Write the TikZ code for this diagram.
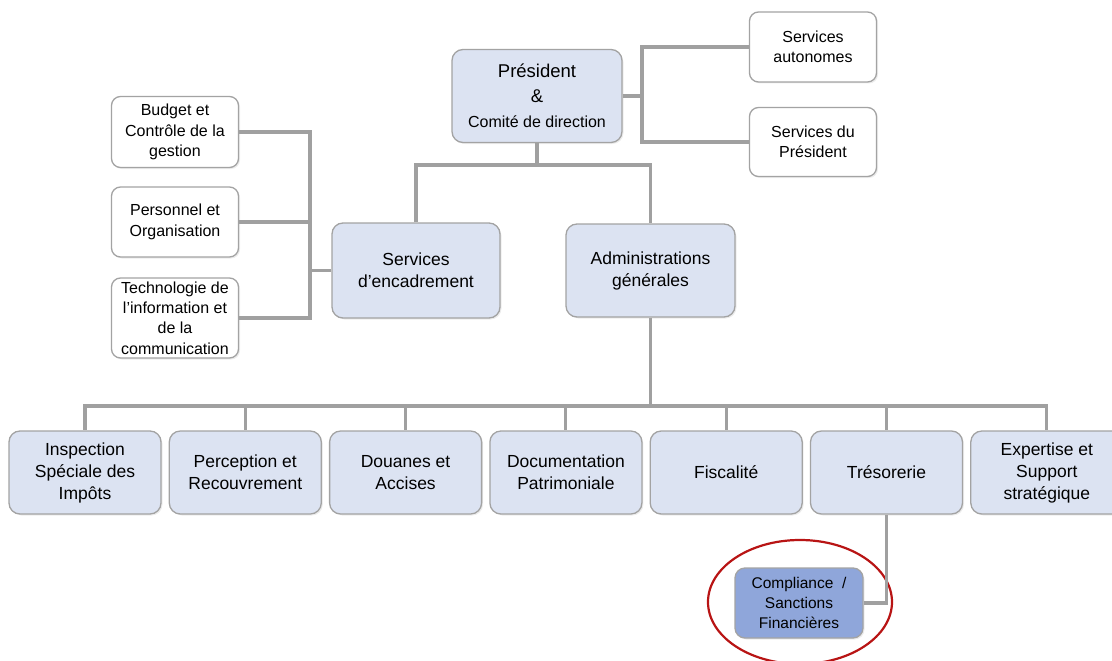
\documentclass[tikz,border=0pt]{standalone}
\usepackage{fontspec}
\setmainfont{Liberation Sans}
\usetikzlibrary{positioning}
\usetikzlibrary{shapes.geometric,shadows}
\definecolor{bleuclair}{HTML}{DCE3F2}
\definecolor{bleufonce}{HTML}{8FA6DA}
\definecolor{gris}{HTML}{A3A3A3}
\definecolor{trait}{HTML}{A0A0A0}
\definecolor{rouge}{HTML}{B81414}
\tikzset{
  boite/.style={draw=gris, line width=1.3pt, align=center, inner sep=1pt,
    drop shadow={shadow xshift=1.5pt, shadow yshift=-1.5pt, opacity=0.15}},
  bleu/.style={boite, fill=bleuclair, rounded corners=11pt, font=\fontsize{17.5}{22}\selectfont},
  blanc/.style={boite, fill=white, rounded corners=9pt, font=\fontsize{16}{20.3}\selectfont,
    minimum width=127pt},
  bas/.style={bleu, minimum width=152pt, minimum height=83pt},
  lien/.style={draw=trait, line width=3.1pt},
}
\begin{document}
\begin{tikzpicture}[x=1pt,y=-1pt]
				\useasboundingbox (0,0) rectangle (1112,661);
				\node[bleu, minimum width=170pt, minimum height=93pt, font=\fontsize{18.5}{25}\selectfont](pres) at (537,96) {Président\\\&\\{\fontsize{16}{25}\selectfont Comité de direction}};
				\node[blanc, minimum height=70pt](auto) at (813,47) {Services\\autonomes};
				\node[blanc, minimum height=69pt](spres) at (813,142) {Services du\\Président};
				\node[blanc, minimum height=71pt](budget) at (175,132) {Budget et\\Contrôle de la\\gestion};
				\node[blanc, minimum height=70pt](perso) at (175,222) {Personnel et\\Organisation};
				\node[blanc, minimum height=80pt](tic) at (175,318) {Technologie de\\l’information et\\de la\\communication};
				\node[bleu, minimum width=168pt, minimum height=95pt](encad) at (416,270.5) {Services\\d’encadrement};
				\node[bleu, minimum width=169pt, minimum height=93pt](admin) at (650.5,270.5) {Administrations\\générales};
				\node[bas](isi) at (85,472.5) {Inspection\\Spéciale des\\Impôts};
				\node[bas, right=7pt of isi](percep) {Perception et\\Recouvrement};
				\node[bas, right=7pt of percep](douanes) {Douanes et\\Accises};
				\node[bas, right=7pt of douanes](docpat) {Documentation\\Patrimoniale};
				\node[bas, right=7pt of docpat](fisc) {Fiscalité};
				\node[bas, right=7pt of fisc](treso) {Trésorerie};
				\node[bas, right=7pt of treso](expert) {Expertise et\\Support\\stratégique};
				\node[bleu, fill=bleufonce, minimum width=128pt, minimum height=70pt, rounded corners=10pt, font=\fontsize{15.5}{20.3}\selectfont](compl) at (799,603) {Compliance~~/\\Sanctions\\Financières};
				\node[draw=rouge, line width=2.2pt, ellipse, minimum width=184pt, minimum height=124pt](cercle) at (800,602) {};

				\coordinate (j1) at (537,165);
				\coordinate (j2) at (642,96);
				\coordinate (j3) at (310,270.5);
				\coordinate (j4) at (650.5,406);

				\draw[lien] (pres) -- (j1);
				\draw[lien] (encad.north) |- (j1) -| (admin.north);
				\draw[lien] (pres.east) -- (j2);
				\draw[lien] (auto.west) -| (j2);
				\draw[lien] (spres.west) -| (j2);
				\draw[lien] (encad.west) -- (j3);
				\draw[lien] (budget.east) -| (j3);
				\draw[lien] (perso.east) -| (j3);
				\draw[lien] (tic.east) -| (j3);
				\draw[lien] (admin) -- (j4);
				\draw[lien] (j4) -| (isi.north);
				\draw[lien] (j4) -| (percep.north);
				\draw[lien] (j4) -| (douanes.north);
				\draw[lien] (j4) -| (docpat.north);
				\draw[lien] (j4) -| (fisc.north);
				\draw[lien] (j4) -| (treso.north);
				\draw[lien] (j4) -| (expert.north);
				\draw[lien] (compl.east) -| (treso.south);
			\end{tikzpicture}
\end{document}
